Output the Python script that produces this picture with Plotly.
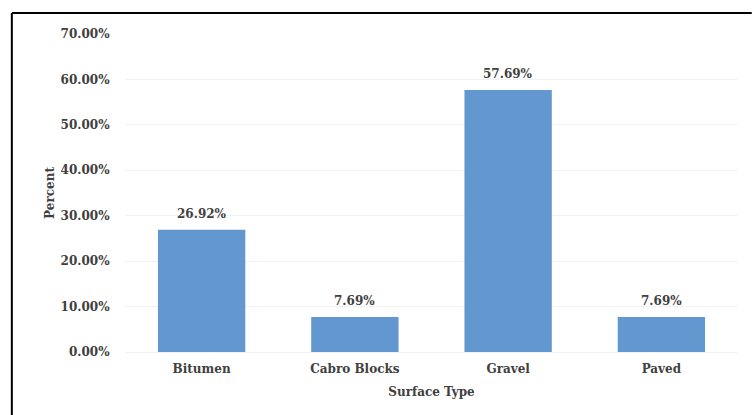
import plotly.graph_objects as go

categories = ["Bitumen", "Cabro Blocks", "Gravel", "Paved"]
values = [26.92, 7.69, 57.69, 7.69]
labels = ["26.92%", "7.69%", "57.69%", "7.69%"]
tick_vals = [0, 10, 20, 30, 40, 50, 60, 70]
tick_text = ["0.00%", "10.00%", "20.00%", "30.00%", "40.00%", "50.00%", "60.00%", "70.00%"]

FONT = "DejaVu Serif"
TXT = "#404040"
FS = 12

fig = go.Figure(go.Bar(
    x=categories, y=values,
    marker=dict(color="#6397d0", line=dict(width=0)),
    cliponaxis=False,
))

for c, v, t in zip(categories, values, labels):
    fig.add_annotation(x=c, y=v, text="<b>" + t + "</b>", showarrow=False,
                       yanchor="bottom", yshift=7,
                       font=dict(family=FONT, size=FS, color=TXT))

W, H = 752, 415
L, R, T, B = 124.75, 13.75, 34, 63
pw, ph = W - L - R, H - T - B

def px(x):
    return (x - L) / pw

def py(y):
    return (H - B - y) / ph

fig.update_layout(
    width=W, height=H,
    margin=dict(l=L, r=R, t=T, b=B, autoexpand=False),
    paper_bgcolor="white", plot_bgcolor="white",
    bargap=0.43,
    showlegend=False,
    font=dict(family=FONT, color=TXT, size=FS),
    xaxis=dict(
        title=dict(text="<b>Surface Type</b>", font=dict(family=FONT, size=FS, color=TXT), standoff=12),
        tickfont=dict(family=FONT, size=FS, color=TXT),
        tickprefix="<b>", ticksuffix="</b>",
        showline=False, showgrid=False,
        ticks="outside", ticklen=6, tickcolor="rgba(0,0,0,0)",
    ),
    yaxis=dict(
        range=[0, 70],
        tickvals=tick_vals, ticktext=["<b>" + t + "</b>" for t in tick_text],
        tickfont=dict(family=FONT, size=FS, color=TXT),
        showgrid=True, gridcolor="#f2f2f2", gridwidth=1,
        zeroline=True, zerolinecolor="#f2f2f2", zerolinewidth=1,
        showline=False, ticks="outside", ticklen=12, tickcolor="rgba(0,0,0,0)",
        title=dict(text="<b>Percent</b>", font=dict(family=FONT, size=FS, color=TXT), standoff=3),
    ),
    shapes=[
        dict(type="line", xref="paper", yref="paper", x0=px(11.5), x1=px(752), y0=py(13), y1=py(13),
             line=dict(color="black", width=2)),
        dict(type="line", xref="paper", yref="paper", x0=px(11.5), x1=px(11.5), y0=py(13), y1=py(416),
             line=dict(color="black", width=2)),
    ],
)

fig.write_html("out.html")
